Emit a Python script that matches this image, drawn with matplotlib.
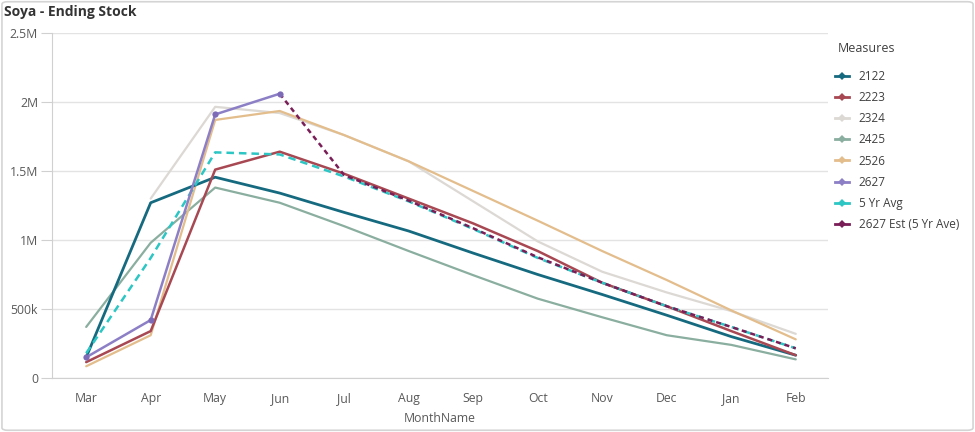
import numpy as np
import matplotlib
matplotlib.use("Agg")
import matplotlib.pyplot as plt
from matplotlib.patches import FancyBboxPatch
from matplotlib.ticker import FuncFormatter

months = ["Mar", "Apr", "May", "Jun", "Jul", "Aug", "Sep", "Oct", "Nov", "Dec", "Jan", "Feb"]
nan = np.nan

s2122 = [0.15, 1.27, 1.455, 1.34, 1.20, 1.065, 0.905, 0.75, 0.605, 0.455, 0.30, 0.165]
s2223 = [0.115, 0.34, 1.51, 1.64, 1.48, 1.30, 1.12, 0.92, 0.69, 0.52, 0.34, 0.165]
s2324 = [nan, 1.30, 1.965, 1.92, 1.76, 1.57, 1.28, 0.99, 0.77, 0.62, 0.485, 0.32]
s2425 = [0.37, 0.98, 1.38, 1.27, 1.10, 0.92, 0.745, 0.575, 0.44, 0.31, 0.24, 0.135]
s2526 = [0.085, 0.31, 1.87, 1.935, 1.76, 1.57, 1.355, 1.14, 0.92, 0.71, 0.49, 0.28]
s2627 = [0.15, 0.42, 1.91, 2.06, nan, nan, nan, nan, nan, nan, nan, nan]
avg5 = [0.18, 0.87, 1.635, 1.62, 1.46, 1.28, 1.08, 0.87, 0.69, 0.52, 0.37, 0.215]
est2627 = [nan, nan, nan, 2.06, 1.47, 1.285, 1.085, 0.875, 0.69, 0.52, 0.37, 0.215]

names = ["2122", "2223", "2324", "2425", "2526", "2627", "5 Yr Avg", "2627 Est (5 Yr Ave)"]
colors = ["#166a80", "#a84852", "#dcd8d4", "#8aae9f", "#e3bd8c", "#8d7fc6", "#2cc6c4", "#7a1e58"]

FONT = ["Open Sans", "DejaVu Sans"]
plt.rcParams['font.family'] = FONT

fig = plt.figure(figsize=(9.75, 4.32), dpi=100)
fig.patch.set_facecolor("white")
border = FancyBboxPatch((0.002, 0.004), 0.996, 0.992, boxstyle="round,pad=0,rounding_size=0.006",
                        transform=fig.transFigure, facecolor="none", edgecolor="#d4d4d4", lw=1.2)
fig.patches.append(border)

ax = fig.add_axes([52/975, 1 - 378/432, (828 - 52)/975, (378 - 33)/432])
x = np.arange(len(months))
scale = 1e6

series = [s2122, s2223, s2324, s2425, s2526, s2627, avg5, est2627]
styles = [
    dict(lw=2.0, ls="-", z=4),
    dict(lw=1.8, ls="-", z=4),
    dict(lw=1.6, ls="-", z=2),
    dict(lw=1.6, ls="-", z=3),
    dict(lw=1.6, ls="-", z=3),
    dict(lw=1.8, ls="-", z=7),
    dict(lw=1.8, ls=(0, (3, 2)), z=5),
    dict(lw=1.8, ls=(0, (2, 1.6)), z=6),
]
handles = []
for name, vals, c, st in zip(names, series, colors, styles):
    v = np.array(vals, dtype=float) * scale
    if name == "2627":
        ax.plot(x, v, color=c, lw=st["lw"], ls=st["ls"], zorder=st["z"], marker="o",
                markersize=4.5, markerfacecolor="#7d6bb8", markeredgewidth=0, solid_capstyle="round")
    else:
        ax.plot(x, v, color=c, lw=st["lw"], ls=st["ls"], zorder=st["z"],
                solid_capstyle="round", dash_capstyle="butt")
    h, = ax.plot([], [], color=c, lw=2, marker="D", markersize=4.5, markeredgewidth=0)
    handles.append(h)

ax.set_xlim(-0.53, 11.5)
ax.set_ylim(0, 2.5e6)
ax.set_yticks([0, 0.5e6, 1e6, 1.5e6, 2e6, 2.5e6])

def fmt(v, pos):
    if v == 0:
        return "0"
    if v >= 1e6:
        return f"{v/1e6:g}M"
    return f"{v/1e3:g}k"
ax.yaxis.set_major_formatter(FuncFormatter(fmt))
ax.set_xticks(x)
ax.set_xticklabels(months)

ax.grid(axis="y", color="#e3e3e3", lw=1)
ax.set_axisbelow(True)
for side in ["top", "right"]:
    ax.spines[side].set_visible(False)
ax.spines["left"].set_color("#d0d0d0")
ax.spines["bottom"].set_color("#d0d0d0")
ax.tick_params(axis="y", length=8, color="#d0d0d0", labelsize=8.8, labelcolor="#595959", pad=2)
ax.tick_params(axis="x", length=0, labelsize=8.8, labelcolor="#595959", pad=10)
ax.set_xlabel("MonthName", fontsize=8.8, color="#595959", labelpad=5)

fig.text(4/975, 1 - 12/432, "Soya - Ending Stock", fontsize=10, fontweight="bold",
         color="#333333", va="center", ha="left")

fig.text(838/975, 1 - 48/432, "Measures", fontsize=9, color="#404040", va="center", ha="left")

leg = fig.legend(handles, names, loc="upper left", bbox_to_anchor=(835/975, 1 - 70/432),
                 frameon=False, fontsize=8.5, borderpad=0,
                 handlelength=1.2, handletextpad=0.8, labelspacing=0.69, borderaxespad=0)
for t in leg.get_texts():
    t.set_color("#404040")

fig.savefig("out.png", dpi=100)
